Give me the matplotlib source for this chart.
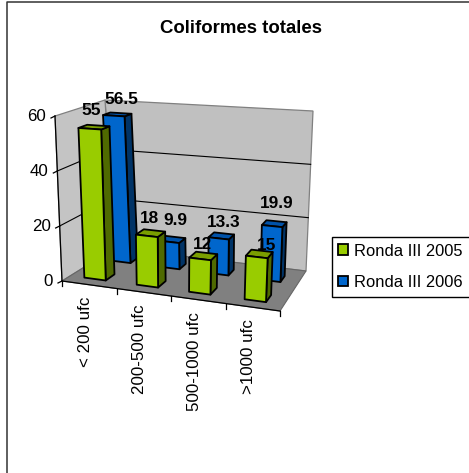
import numpy as np
import matplotlib
matplotlib.use("Agg")
import matplotlib.pyplot as plt
from matplotlib.patches import Polygon, Patch

plt.rcParams['font.family'] = ['Liberation Sans', 'DejaVu Sans']

categories = ['< 200 ufc', '200-500 ufc', '500-1000 ufc', '>1000 ufc']
ronda_2005 = [55, 18, 12, 15]
ronda_2006 = [56.5, 9.9, 13.3, 19.9]
series_names = ['Ronda III 2005', 'Ronda III 2006']
y_ticks = [0, 20, 40, 60]
y_max = 60

# colores: frente, tapa, lado
green = ('#99CC00', '#7A9E00', '#4F6A00')
blue = ('#0066CC', '#0052A8', '#003366')

# esquinas de la caja 3D en pixeles de la imagen
FL0 = np.array([62, 281.0])
FR0 = np.array([280, 311.0])
BL0 = np.array([115, 248.0])
BR0 = np.array([306, 271.0])
FL1 = np.array([55, 116.0])
FR1 = np.array([288, 131.0])
BL1 = np.array([105, 100.0])
BR1 = np.array([313, 111.0])


def proj(u, v, value):
    # u: a lo largo de categorias, v: profundidad, value: valor del eje y
    h = value / y_max
    bottom = (1 - v) * ((1 - u) * FL0 + u * FR0) + v * ((1 - u) * BL0 + u * BR0)
    top = (1 - v) * ((1 - u) * FL1 + u * FR1) + v * ((1 - u) * BL1 + u * BR1)
    return (1 - h) * bottom + h * top


fig = plt.figure(figsize=(4.69, 4.73), dpi=100)
ax = fig.add_axes([0, 0, 1, 1])
ax.set_xlim(0, 469)
ax.set_ylim(473, 0)
ax.axis('off')

# marco exterior
ax.plot([6.5, 6.5, 469], [473, 2.5, 2.5], color='#333333', lw=1.1)

ax.text(241, 28.5, 'Coliformes totales', fontsize=13.4, fontweight='bold', ha='center', va='center')

# paredes y piso
ax.add_patch(Polygon([proj(0, 1, 0), proj(1, 1, 0), proj(1, 1, y_max), proj(0, 1, y_max)],
                     fc='#C0C0C0', ec='#808080', lw=0.9, zorder=1))
ax.add_patch(Polygon([proj(0, 0, 0), proj(0, 1, 0), proj(0, 1, y_max), proj(0, 0, y_max)],
                     fc='#C4C4C4', ec='#808080', lw=0.9, zorder=1))
ax.add_patch(Polygon([proj(0, 0, 0), proj(1, 0, 0), proj(1, 1, 0), proj(0, 1, 0)],
                     fc='#808080', ec='#666666', lw=0.8, zorder=1))

# lineas de division
for t in y_ticks[1:-1]:
    pts = np.array([proj(0, 0, t), proj(0, 1, t), proj(1, 1, t)])
    ax.plot(pts[:, 0], pts[:, 1], color='black', lw=0.8, zorder=2)

# eje y
pts = np.array([proj(0, 0, 0), proj(0, 0, y_max)])
ax.plot(pts[:, 0], pts[:, 1], color='black', lw=0.9, zorder=2)
for t in y_ticks:
    p = proj(0, 0, t)
    ax.plot([p[0] - 4, p[0]], [p[1] + 2, p[1]], color='black', lw=0.9, zorder=2)
    ax.text(p[0] - 9, p[1] + 0.5, str(t), fontsize=12.2, ha='right', va='center')

# eje x
pts = np.array([proj(0, 0, 0), proj(1, 0, 0)])
ax.plot(pts[:, 0], pts[:, 1], color='black', lw=0.9, zorder=2)
for i in range(len(categories) + 1):
    p = proj(i / len(categories), 0, 0)
    ax.plot([p[0], p[0]], [p[1], p[1] + 5], color='black', lw=0.9, zorder=2)
for i, name in enumerate(categories):
    p = proj((i + 0.5) / len(categories), 0, 0)
    ax.text(p[0] - 4, p[1] + 12, name, rotation=90, fontsize=12.2, ha='center', va='top')


def bar(u0, u1, v0, v1, value, colors, z):
    front = [proj(u0, v0, 0), proj(u1, v0, 0), proj(u1, v0, value), proj(u0, v0, value)]
    side = [proj(u1, v0, 0), proj(u1, v1, 0), proj(u1, v1, value), proj(u1, v0, value)]
    top = [proj(u0, v0, value), proj(u1, v0, value), proj(u1, v1, value), proj(u0, v1, value)]
    ax.add_patch(Polygon(side, fc=colors[2], ec='black', lw=1.3, zorder=z, joinstyle='round'))
    ax.add_patch(Polygon(top, fc=colors[1], ec='black', lw=1.3, zorder=z, joinstyle='round'))
    ax.add_patch(Polygon(front, fc=colors[0], ec='black', lw=1.3, zorder=z, joinstyle='round'))


bar_w = 0.1
bar_pos = [0.115, 0.36, 0.605, 0.865]
# desplazamiento de las etiquetas respecto a la tapa de cada barra
off_2005 = [(-3, -17), (-1, -15), (-1, -11), (7, -8)]
off_2006 = [(4, -15), (3, -19), (2, -13), (2, -20)]

# barras, primero las de atras
for i, val in enumerate(ronda_2006):
    c = bar_pos[i]
    bar(c - bar_w / 2, c + bar_w / 2, 0.67, 0.82, val, blue, 3 + i * 0.01)
for i, val in enumerate(ronda_2005):
    c = bar_pos[i]
    bar(c - bar_w / 2, c + bar_w / 2, 0.16, 0.34, val, green, 4 + i * 0.01)

# etiquetas de datos
for i in range(len(categories)):
    c = bar_pos[i]
    p = proj(c, 0.25, ronda_2005[i])
    ax.text(p[0] + off_2005[i][0], p[1] + off_2005[i][1], '%g' % ronda_2005[i], fontsize=12.4,
            fontweight='bold', ha='center', va='center', zorder=6)
    p = proj(c, 0.75, ronda_2006[i])
    ax.text(p[0] + off_2006[i][0], p[1] + off_2006[i][1], '%g' % ronda_2006[i], fontsize=12.4,
            fontweight='bold', ha='center', va='center', zorder=6)

handles = [Patch(fc=green[0], ec='black', lw=1.3), Patch(fc=blue[0], ec='black', lw=1.3)]
leg = ax.legend(handles, series_names, loc='lower left', bbox_to_anchor=(331.5, 297),
                bbox_transform=ax.transData, fontsize=11.9, frameon=True, fancybox=False,
                edgecolor='black', framealpha=1, shadow=False, borderpad=0.42, labelspacing=1.0,
                handlelength=0.6, handleheight=0.6, handletextpad=0.36, borderaxespad=0)
leg.get_frame().set_linewidth(1.0)
leg.set_zorder(7)

fig.savefig('out.png', dpi=100)
